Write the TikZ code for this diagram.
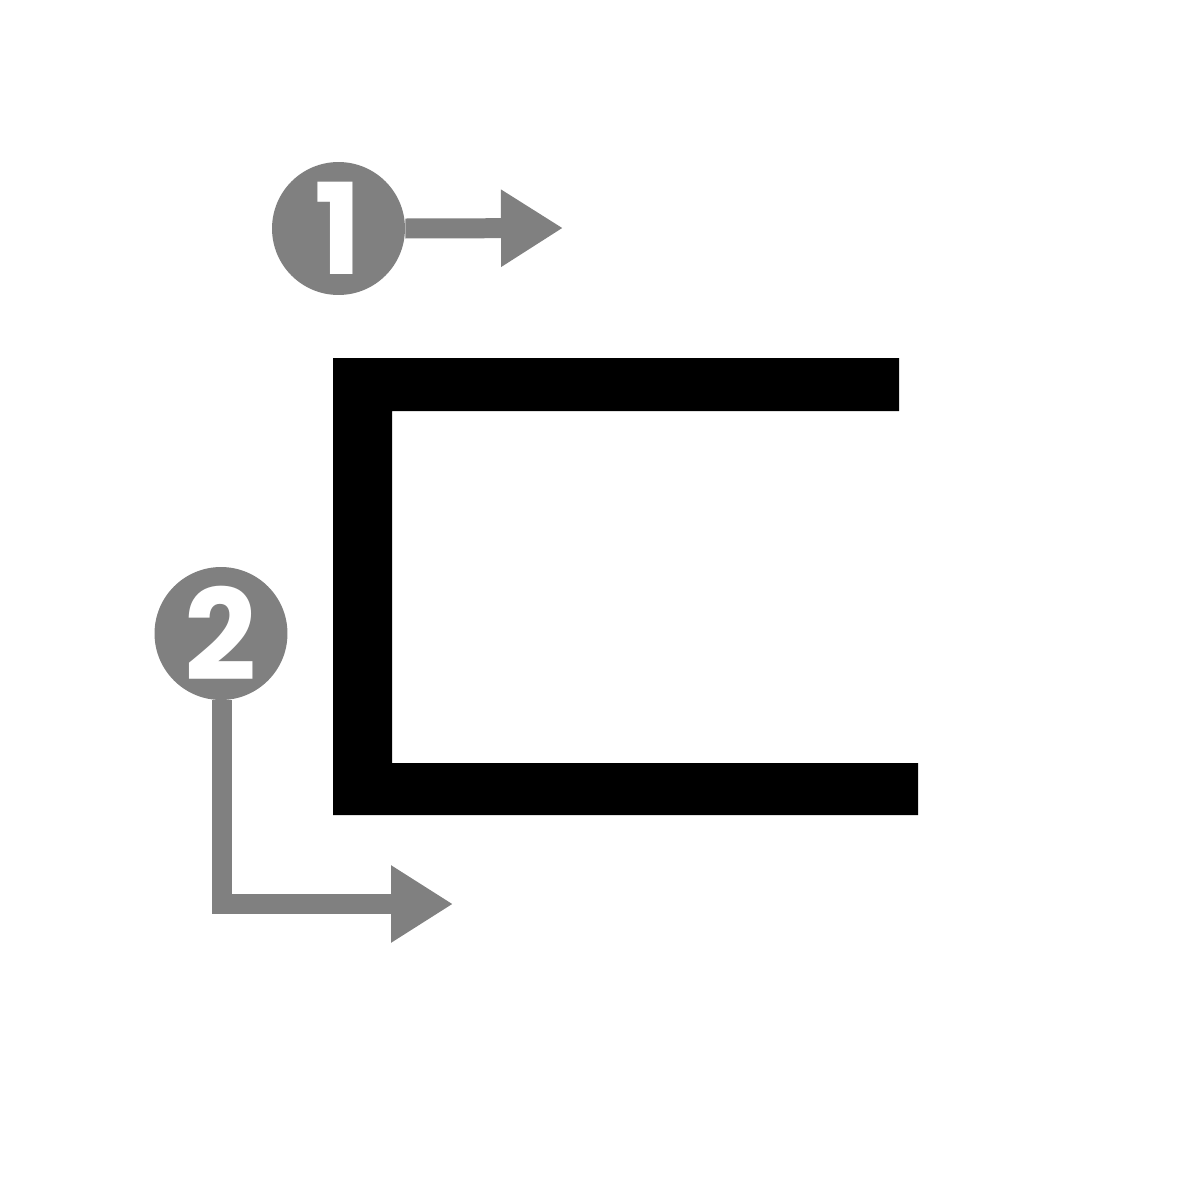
\documentclass[tikz,border=0pt]{standalone}
\usepackage{fontspec}
\setmainfont{Poppins}
\usetikzlibrary{arrows.meta}
\definecolor{stepgray}{RGB}{128,128,128}
\tikzset{
  numcircle/.style={circle, fill=stepgray, minimum size=2.66cm, inner sep=0pt,
    text=white, font=\fontsize{72}{72}\selectfont\bfseries},
  strokearrow/.style={draw=stepgray, line width=0.4cm,
    -{Triangle[length=1.24cm, width=1.46cm, fill=stepgray]}},
  glyph/.style={fill=black}
}
\begin{document}
\begin{tikzpicture}[x=0.02cm, y=-0.02cm]
  \useasboundingbox (0,0) rectangle (1192,1200);
  % character strokes
  \fill[glyph] (333,358) -- (899,358) -- (899,411) -- (392,411) -- (392,763)
    -- (918,763) -- (918,815) -- (333,815) -- cycle;
  % stroke order markers
  \node[numcircle] (c1) at (338.5,228.5) {1};
  \node[numcircle] (c2) at (221,633.5) {2};
  \coordinate (e1) at (563,228);
  \coordinate (e2) at (453,904);
  \draw[strokearrow] (c1.east) -- (e1);
  \draw[strokearrow] ([xshift=0.02cm]c2.south) |- (e2);
\end{tikzpicture}
\end{document}
